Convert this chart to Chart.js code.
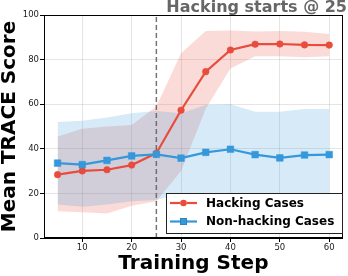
<!DOCTYPE html>
<html><head><meta charset="utf-8">
<script src="https://cdn.jsdelivr.net/npm/chart.js@4.4.1/dist/chart.umd.min.js"></script>
<style>html,body{margin:0;padding:0;background:#fff;}#wrap{width:348px;height:276px;}</style>
</head><body><div id="wrap"><canvas id="c" width="348" height="276"></canvas></div>
<script>
const steps = [5, 10, 15, 20, 25, 30, 35, 40, 45, 50, 55, 60];
const hacking = [28.4, 30.1, 30.6, 32.7, 38.0, 57.3, 74.6, 84.3, 86.9, 87.0, 86.6, 86.5];
const hackingUpper = [45.5, 49, 50, 50.7, 59, 82.8, 92.8, 93, 92.6, 92.8, 92.5, 91.5];
const hackingLower = [12, 11.5, 11, 14.5, 16.5, 30, 58, 76, 81.5, 81.5, 81, 81.5];
const nonHacking = [33.6, 32.9, 34.8, 36.8, 37.5, 35.8, 38.4, 39.8, 37.4, 35.9, 37.2, 37.4];
const nonHackingUpper = [52, 52.6, 54, 55.9, 57, 55.9, 59.6, 60, 56.6, 56.6, 57.8, 57.8];
const nonHackingLower = [15, 14, 15, 16.5, 17, 20, 20, 20, 20, 20, 20, 20];
const seriesNames = ['Hacking Cases', 'Non-hacking Cases'];
const hackStart = 25;
const xTicks = [10, 20, 30, 40, 50, 60];
const yTicks = [0, 20, 40, 60, 80, 100];
const chartTitle = 'Hacking starts @ 25';
const xTitle = 'Training Step';
const yTitle = 'Mean TRACE Score';

const RED = 'rgb(231,76,60)';
const BLUE = 'rgb(52,152,219)';
const FONT = 'DejaVu Sans';
const pts = arr => steps.map((s, i) => ({x: s, y: arr[i]}));

const frameAndLegend = {
  id: 'frameAndLegend',
  afterDraw(chart) {
    const ctx = chart.ctx, a = chart.chartArea;
    ctx.save();
    ctx.strokeStyle = '#000'; ctx.lineWidth = 1;
    ctx.strokeRect(Math.round(a.left) + 0.5, Math.round(a.top) + 0.5,
      Math.round(a.right) - Math.round(a.left) - 1, Math.round(a.bottom) - Math.round(a.top) - 1);
    // legend
    const bx = 166.5, by = 193.5, bw = 176, bh = 40;
    ctx.fillStyle = '#fff';
    ctx.fillRect(bx, by, bw, bh);
    ctx.strokeStyle = '#222'; ctx.lineWidth = 1;
    ctx.strokeRect(bx, by, bw, bh);
    const entries = [
      {ds: chart.data.datasets[4], y: 203},
      {ds: chart.data.datasets[5], y: 221.5}
    ];
    ctx.font = 'bold 12px "' + FONT + '"';
    ctx.textBaseline = 'middle';
    ctx.textAlign = 'left';
    entries.forEach(e => {
      ctx.strokeStyle = e.ds.borderColor;
      ctx.lineWidth = 2.2;
      ctx.beginPath(); ctx.moveTo(170, e.y); ctx.lineTo(197, e.y); ctx.stroke();
      Chart.helpers.drawPoint(ctx, {pointStyle: e.ds.pointStyle, rotation: 0, radius: e.ds.pointRadius, borderWidth: 0}, 183.5, e.y);
      ctx.fillStyle = e.ds.borderColor;
      ctx.beginPath();
      if (e.ds.pointStyle === 'rect') {
        const s = Math.SQRT1_2 * e.ds.pointRadius; ctx.rect(183.5 - s, e.y - s, 2 * s, 2 * s);
      } else { ctx.arc(183.5, e.y, e.ds.pointRadius, 0, Math.PI * 2); }
      ctx.fill();
      ctx.fillStyle = '#000';
      ctx.fillText(e.ds.label, 206, e.y + 0.5);
    });
    ctx.restore();
  }
};

new Chart(document.getElementById('c'), {
  type: 'line',
  data: {
    datasets: [
      {label: 'hu', data: pts(hackingUpper), fill: '+1', backgroundColor: 'rgba(231,76,60,0.2)', borderWidth: 0, pointRadius: 0, order: 6},
      {label: 'hl', data: pts(hackingLower), fill: false, borderWidth: 0, pointRadius: 0, order: 6},
      {label: 'nu', data: pts(nonHackingUpper), fill: '+1', backgroundColor: 'rgba(52,152,219,0.2)', borderWidth: 0, pointRadius: 0, order: 5},
      {label: 'nl', data: pts(nonHackingLower), fill: false, borderWidth: 0, pointRadius: 0, order: 5},
      {label: seriesNames[0], data: pts(hacking), borderColor: RED, backgroundColor: RED, pointBackgroundColor: RED, pointBorderColor: RED, pointStyle: 'circle', pointRadius: 3.3, pointBorderWidth: 0.5, borderWidth: 2.2, fill: false, order: 1},
      {label: seriesNames[1], data: pts(nonHacking), borderColor: BLUE, backgroundColor: BLUE, pointBackgroundColor: BLUE, pointBorderColor: BLUE, pointStyle: 'rect', pointRadius: 4.7, pointBorderWidth: 0.5, borderWidth: 2.2, fill: false, order: 0},
      {label: 'start', data: [{x: hackStart, y: yTicks[0]}, {x: hackStart, y: yTicks[yTicks.length - 1]}], borderColor: 'rgba(90,90,90,0.85)', borderDash: [5, 3], borderWidth: 1.5, pointRadius: 0, fill: false, order: 3}
    ]
  },
  options: {
    responsive: false,
    devicePixelRatio: 1,
    animation: false,
    layout: {padding: {top: 0, right: 1, left: 0, bottom: 0}},
    plugins: {
      legend: {display: false},
      tooltip: {enabled: false},
      title: {display: true, text: chartTitle, align: 'end', color: '#666',
        font: {family: FONT, size: 16, weight: 'bold', lineHeight: 0.9375}, padding: 0}
    },
    scales: {
      x: {
        type: 'linear', min: 2.25, max: 62.75,
        afterBuildTicks: s => { s.ticks = xTicks.map(v => ({value: v})); },
        afterFit: s => { s.height = 38; },
        ticks: {font: {family: FONT, size: 8.5}, color: '#222', padding: 1, maxRotation: 0, autoSkip: false},
        grid: {color: 'rgba(0,0,0,0.1)', tickColor: '#000', tickLength: 4, lineWidth: 1},
        border: {display: true, color: '#000', width: 1},
        title: {display: true, text: xTitle, color: '#000', font: {family: FONT, size: 20, weight: 'bold', lineHeight: 1.2}, padding: 0}
      },
      y: {
        type: 'linear', min: 0, max: 100,
        afterBuildTicks: s => { s.ticks = yTicks.map(v => ({value: v})); },
        afterFit: s => { s.width = 44; },
        ticks: {font: {family: FONT, size: 8.5}, color: '#222', padding: 1, autoSkip: false},
        grid: {color: 'rgba(0,0,0,0.1)', tickColor: '#000', tickLength: 4, lineWidth: 1},
        border: {display: true, color: '#000', width: 1},
        title: {display: true, text: yTitle, color: '#000', font: {family: FONT, size: 20, weight: 'bold', lineHeight: 1.0}, padding: 0}
      }
    }
  },
  plugins: [frameAndLegend]
});
</script></body></html>
